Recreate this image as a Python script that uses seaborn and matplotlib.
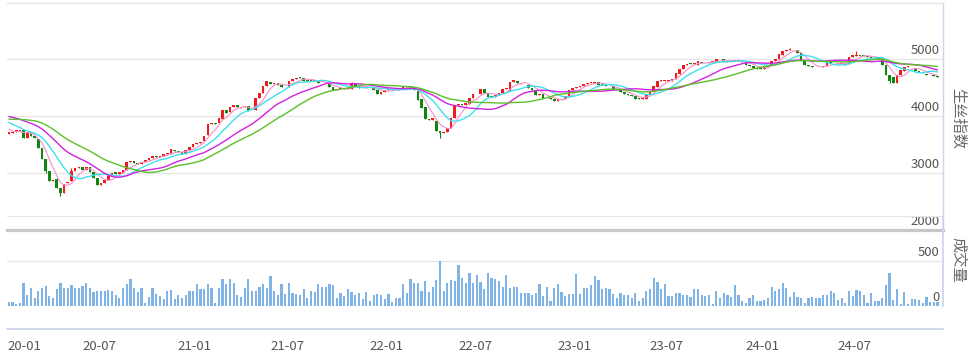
import numpy as np
import pandas as pd
import matplotlib
matplotlib.use("Agg")
import matplotlib.pyplot as plt
import seaborn as sns

## weekly raw silk index, 2020-01 .. 2024-12

# closes before the visible window, only used so the moving averages start correctly
closes_2019 = [3800, 3780, 3760, 3790, 3820, 3850, 3870, 3900, 3950, 3990,
               4030, 4070, 4100, 4120, 4140, 4130, 4110, 4100, 4080, 4060,
               4050, 4030, 4010, 3980, 3950, 3880, 3800, 3740, 3710]

opens = [3690, 3705, 3720, 3740, 3760, 3620, 3720, 3640, 3600, 3440,
         3250, 3030, 2860, 2900, 2740, 2650, 2820, 2860, 3030, 3080,
         3100, 3060, 3100, 3020, 2920, 2790, 2830, 2870, 2940, 3010,
         2990, 3000, 3060, 3190, 3210, 3170, 3160, 3190, 3230, 3270,
         3290, 3280, 3300, 3330, 3340, 3410, 3380, 3360, 3340, 3410,
         3460, 3500, 3520, 3560, 3660, 3850, 3880, 3870, 3950, 4110,
         4070, 4160, 4190, 4145, 4160, 4170, 4090, 4100, 4320, 4400,
         4520, 4600, 4560, 4580, 4550, 4510, 4500, 4620, 4650, 4680,
         4670, 4620, 4610, 4630, 4620, 4570, 4580, 4560, 4500, 4460,
         4470, 4470, 4480, 4480, 4580, 4530, 4485, 4490, 4500, 4510,
         4460, 4380, 4420, 4455, 4460, 4470, 4460, 4480, 4510, 4520,
         4510, 4440, 4290, 4160, 3950, 3930, 3910, 3730, 3700, 3720,
         3790, 3960, 4200, 4205, 4200, 4210, 4310, 4380, 4380, 4470,
         4400, 4350, 4340, 4360, 4410, 4470, 4440, 4600, 4620, 4580,
         4560, 4550, 4490, 4460, 4360, 4380, 4320, 4310, 4290, 4270,
         4290, 4290, 4350, 4460, 4490, 4500, 4520, 4560, 4580, 4585,
         4590, 4550, 4540, 4530, 4520, 4470, 4460, 4420, 4380, 4360,
         4350, 4310, 4300, 4305, 4380, 4430, 4510, 4610, 4610, 4615,
         4620, 4650, 4740, 4820, 4900, 4920, 4910, 4900, 4950, 4930,
         4920, 4940, 4940, 5000, 4990, 4945, 4950, 4960, 4965, 4970,
         4940, 4900, 4870, 4840, 4835, 4830, 4860, 4900, 4960, 5000,
         5070, 5140, 5150, 5160, 5150, 5100, 4960, 4900, 4870, 4860,
         4850, 4850, 4880, 4950, 4930, 4930, 4910, 4920, 4910, 5030,
         5055, 5060, 5055, 5050, 5040, 5020, 5020, 5020, 4900, 4720,
         4680, 4580, 4720, 4780, 4860, 4860, 4830, 4780, 4770, 4740,
         4720, 4710, 4700]

closes = [3710, 3720, 3745, 3750, 3620, 3715, 3640, 3610, 3440, 3240,
          3040, 2860, 2880, 2740, 2640, 2810, 2850, 3030, 3080, 3100,
          3060, 3100, 3020, 2920, 2790, 2820, 2870, 2940, 3000, 2990,
          3010, 3060, 3190, 3210, 3170, 3160, 3190, 3230, 3270, 3290,
          3280, 3300, 3330, 3340, 3420, 3380, 3360, 3330, 3410, 3460,
          3500, 3520, 3550, 3650, 3850, 3880, 3860, 3960, 4110, 4060,
          4160, 4190, 4150, 4160, 4170, 4090, 4080, 4310, 4400, 4520,
          4610, 4560, 4580, 4550, 4500, 4500, 4620, 4650, 4670, 4670,
          4620, 4610, 4630, 4620, 4570, 4580, 4570, 4500, 4460, 4470,
          4480, 4480, 4470, 4580, 4530, 4490, 4495, 4500, 4510, 4460,
          4380, 4420, 4460, 4465, 4470, 4460, 4480, 4510, 4520, 4510,
          4450, 4280, 4140, 3940, 3930, 3960, 3740, 3700, 3720, 3780,
          3960, 4200, 4210, 4195, 4220, 4310, 4380, 4390, 4480, 4400,
          4340, 4340, 4360, 4410, 4470, 4480, 4600, 4630, 4580, 4560,
          4555, 4490, 4460, 4370, 4380, 4320, 4310, 4290, 4270, 4290,
          4280, 4350, 4460, 4490, 4500, 4520, 4560, 4580, 4590, 4595,
          4550, 4540, 4530, 4520, 4470, 4460, 4420, 4380, 4360, 4350,
          4300, 4300, 4310, 4390, 4440, 4530, 4610, 4615, 4620, 4625,
          4650, 4750, 4830, 4900, 4910, 4910, 4920, 4960, 4920, 4920,
          4950, 4960, 5000, 4990, 4950, 4955, 4960, 4975, 4975, 4940,
          4900, 4870, 4840, 4830, 4825, 4860, 4900, 4960, 5000, 5080,
          5140, 5150, 5165, 5150, 5110, 4960, 4900, 4870, 4860, 4850,
          4850, 4880, 4950, 4930, 4920, 4910, 4925, 4900, 5030, 5060,
          5065, 5055, 5050, 5040, 5020, 5020, 5000, 4900, 4720, 4610,
          4580, 4720, 4800, 4860, 4870, 4850, 4780, 4770, 4750, 4720,
          4710, 4700, 4690]

# only the wicks that stick out visibly
wick_lows = {14: 2600, 117: 3610, 10: 3000, 239: 4580}
wick_highs = {212: 5190, 230: 5130, 93: 4600, 17: 3080}

volumes = [48, 48, 22, 30, 250, 120, 195, 85, 165, 205,
           220, 110, 85, 185, 250, 195, 205, 230, 205, 205,
           220, 260, 205, 160, 170, 170, 170, 175, 170, 120,
           85, 195, 240, 295, 195, 160, 205, 30, 95, 205,
           130, 115, 75, 170, 175, 75, 120, 90, 120, 165,
           165, 245, 185, 185, 245, 195, 35, 205, 295, 245,
           305, 255, 120, 105, 205, 305, 170, 170, 215, 245,
           195, 330, 170, 120, 245, 130, 250, 140, 130, 120,
           185, 85, 170, 150,
           239, 206, 206, 243, 232, 85, 140, 110, 184, 158,
           121, 147, 74, 158, 59, 121, 129, 121, 74, 132,
           48, 85, 85, 243, 147, 305, 258, 258, 169, 280,
           158, 206, 294, 497, 169, 258, 294, 280, 453, 316,
           258, 368, 258, 342, 269, 184, 361, 316, 305, 280,
           206, 342, 195, 206, 213, 147, 147, 147, 121, 147,
           243, 114, 213, 59, 195, 243, 158, 110, 132, 132,
           353, 132, 195, 195, 232, 331, 294, 184, 195, 184,
           132, 85, 147, 121, 121, 85, 147, 59, 92, 169,
           184, 316, 269, 184, 243, 110, 110, 140, 140, 121,
           121, 96, 184, 184, 121, 110, 121, 18, 169, 85,
           147, 121, 96, 232, 121, 59, 37, 85, 121, 59,
           59, 66, 85, 206, 169, 184, 250, 195, 96, 158,
           103, 85, 37, 85, 96, 85, 85, 121, 121, 169,
           140, 66, 85, 29, 169, 110, 177, 169, 121, 37,
           140, 59, 59, 85, 232, 361, 66, 184, 22, 158,
           22, 77, 77, 66, 29, 103, 48, 48, 40]

# trading weeks (Fridays), spring festival weeks have no bar
holiday_weeks = ["2020-01-31", "2021-02-12", "2022-02-04", "2023-01-27", "2024-02-16"]
weeks = pd.date_range("2020-01-03", "2024-12-06", freq="W-FRI")
weeks = weeks[~weeks.isin(pd.to_datetime(holiday_weeks))]

ma_periods = [5, 10, 20, 30]
ma_colors = ["#f78fc8", "#3fe0ee", "#d321e0", "#5cbf2a"]
ma_widths = [0.8, 1.0, 1.0, 1.0]

UP = "#ee1c1c"
DOWN = "#0f860f"

sns.set_theme(style="white")
plt.rcParams["font.family"] = ["Noto Sans CJK SC", "DejaVu Sans"]

n = len(closes)
x = np.arange(n)
o = np.array(opens, dtype=float)
c = np.array(closes, dtype=float)

all_close = pd.Series(closes_2019 + closes, dtype=float)

W, H = 971, 358
fig = plt.figure(figsize=(W / 100, H / 100), dpi=100)
ax1 = fig.add_axes([7 / W, 1 - 230 / H, 936 / W, 227 / H])
ax2 = fig.add_axes([7 / W, 1 - 329 / H, 936 / W, 113 / H])
ax2.patch.set_alpha(0)

# candles
up = c >= o
body_lo = np.minimum(o, c)
body_h = np.maximum(np.abs(c - o), 12)
cols = np.where(up, UP, DOWN)
for i in x:
    lo = min(wick_lows.get(i, body_lo[i]), body_lo[i])
    hi = max(wick_highs.get(i, body_lo[i] + body_h[i]), body_lo[i] + body_h[i])
    ax1.vlines(i, lo, hi, color=cols[i], lw=0.8, zorder=3)
ax1.bar(x, body_h, bottom=body_lo, width=0.72, color=cols, linewidth=0, zorder=3)

# moving averages
for p, col, lw in zip(ma_periods, ma_colors, ma_widths):
    ma = all_close.rolling(p).mean().to_numpy()[-n:]
    sns.lineplot(x=x, y=ma, ax=ax1, color=col, linewidth=lw, zorder=4)

ax1.set_xlim(-0.5, n + 0.5)
ax1.set_ylim(2000, 5980)
ax1.set_yticks([3000, 4000, 5000])
ax1.set_xticks([])
ax1.yaxis.grid(True, color="#e6e6e6", lw=1)
ax1.tick_params(axis="y", length=0, labelleft=False, labelright=False)
for side in ["left"]:
    ax1.spines[side].set_visible(False)
ax1.spines["top"].set_color("#e6e6e6")
ax1.spines["top"].set_linewidth(1)
ax1.spines["right"].set_color("#ccd6eb")
ax1.spines["right"].set_linewidth(1)
ax1.spines["bottom"].set_color("#c8c8c8")
ax1.spines["bottom"].set_linewidth(2.3)
for v in [2000, 3000, 4000, 5000]:
    ax1.text(0.9965, v + 30, str(v), transform=ax1.get_yaxis_transform(),
             ha="right", va="bottom", fontsize=9.5, color="#555555")

# volume
ax2.bar(x, volumes, width=0.6, color="#80b3e6", linewidth=0, zorder=3)
ax2.set_xlim(-0.5, n + 0.5)
ax2.set_ylim(-256, 1000)
ax2.set_yticks([500, 1000])
ax2.yaxis.grid(True, color="#e6e6e6", lw=1)
ax2.tick_params(axis="y", length=0, labelleft=False, labelright=False)
ax2.spines["left"].set_visible(False)
ax2.spines["top"].set_visible(False)
ax2.spines["bottom"].set_color("#ccd6eb")
ax2.spines["right"].set_color("#ccd6eb")
ax2.spines["right"].set_bounds(0, 1000)
for v in [0, 500]:
    ax2.text(0.9965, v + 20, str(v), transform=ax2.get_yaxis_transform(),
             ha="right", va="bottom", fontsize=9.5, color="#555555")

# x ticks at the first week of January and July
tick_pos, tick_lab = [], []
for i, d in enumerate(weeks):
    if d.month in (1, 7) and (i == 0 or weeks[i - 1].month != d.month):
        tick_pos.append(i - 0.5)
        tick_lab.append(d.strftime("%y-%m"))
ax2.set_xticks(tick_pos)
ax2.set_xticklabels(tick_lab)
ax2.tick_params(axis="x", length=7, width=1, color="#ccd6eb", pad=1,
                labelsize=9.5, labelcolor="#555555")
ax2.get_xticklabels()[0].set_horizontalalignment("left")

fig.text(958 / W, 1 - 118 / H, "生丝指数", rotation=-90, ha="center", va="center",
         fontsize=11, color="#666666")
fig.text(958 / W, 1 - 260 / H, "成交量", rotation=-90, ha="center", va="center",
         fontsize=11, color="#666666")

fig.savefig("out.png", dpi=100)
